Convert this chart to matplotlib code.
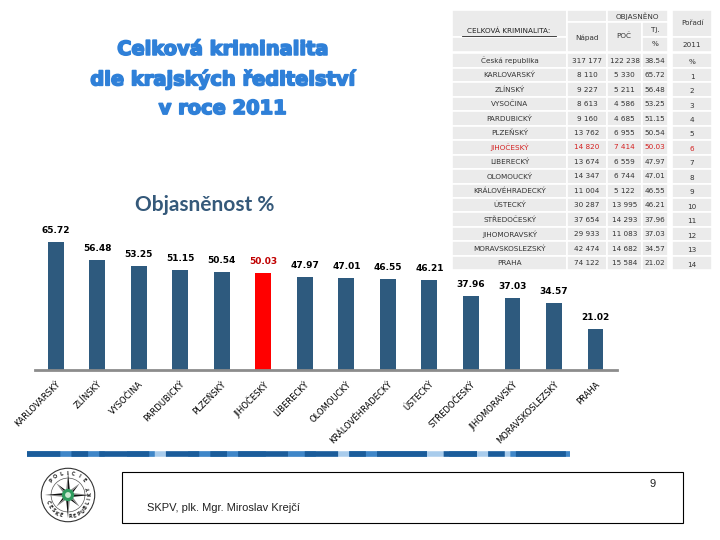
import matplotlib
matplotlib.use("Agg")
import matplotlib.pyplot as plt
import matplotlib.patches as mpatches
import matplotlib.patheffects as pe
from matplotlib.lines import Line2D
import numpy as np

# data
regions = ["KARLOVARSKÝ", "ZLÍNSKÝ", "VYSOČINA", "PARDUBICKÝ", "PLZEŇSKÝ",
           "JIHOČESKÝ", "LIBERECKÝ", "OLOMOUCKÝ", "KRÁLOVÉHRADECKÝ", "ÚSTECKÝ",
           "STŘEDOČESKÝ", "JIHOMORAVSKÝ", "MORAVSKOSLEZSKÝ", "PRAHA"]
objasnenost = [65.72, 56.48, 53.25, 51.15, 50.54, 50.03, 47.97, 47.01,
               46.55, 46.21, 37.96, 37.03, 34.57, 21.02]
napad = [317177, 8110, 9227, 8613, 9160, 13762, 14820, 13674, 14347,
         11004, 30287, 37654, 29933, 42474, 74122]
poc = [122238, 5330, 5211, 4586, 4685, 6955, 7414, 6559, 6744,
       5122, 13995, 14293, 11083, 14682, 15584]
table_names = ["Česká republika"] + regions
table_pct = [38.54] + objasnenost
poradi = ["%"] + [str(i) for i in range(1, 15)]
highlight = "JIHOČESKÝ"

W, H = 720, 540
fig = plt.figure(figsize=(7.2, 5.4), dpi=100)
fig.patch.set_facecolor("white")

def fx(x):
    return x / W

def fy(y):
    return 1 - y / H

# big title
fig.text(fx(223), fy(79), "Celková kriminalita\ndle krajských ředitelství\nv roce 2011",
         ha="center", va="center", fontsize=14, fontweight="bold",
         family="DejaVu Sans", color="#2F80D8", linespacing=1.65,
         path_effects=[pe.withStroke(linewidth=1.2, foreground="#2F80D8")])

# chart title
fig.text(fx(205), fy(205), "Objasněnost %", ha="center", va="center",
         fontsize=15, fontweight="bold", family="Lato", color="#35597A")

# bar chart
ax = fig.add_axes([fx(35), fy(370), (617 - 35) / W, 136.4 / H])
ax.patch.set_alpha(0)
x = np.arange(len(regions))
colors = ["#FF0000" if r == highlight else "#2E5A7E" for r in regions]
bars = ax.bar(x, objasnenost, width=0.38, color=colors, zorder=2)
labels = ax.bar_label(bars, fmt="%.2f", padding=5, fontsize=6.5,
                      fontweight="bold", color="black")
for r, t in zip(regions, labels):
    if r == highlight:
        t.set_color("#C00000")
ax.set_xlim(-0.5, 13.52)
ax.set_ylim(0, 70)
for s in ["top", "left", "right"]:
    ax.spines[s].set_visible(False)
ax.spines["bottom"].set_color("#8C8C8C")
ax.spines["bottom"].set_linewidth(2)
ax.set_yticks([])
ax.set_xticks(x)
ax.set_xticklabels(regions, rotation=45, ha="right", rotation_mode="anchor",
                   fontsize=6, color="black")
ax.tick_params(axis="x", length=0, pad=7)

# table on the right
cell_bg = "#EBEBEB"

def cell(x0, y0, x1, y1):
    fig.add_artist(mpatches.Rectangle((fx(x0), fy(y1)), (x1 - x0) / W, (y1 - y0) / H,
                                      transform=fig.transFigure, facecolor=cell_bg,
                                      edgecolor="white", linewidth=1.2))

def ttext(xc, yc, s, color="#333333", size=5.2, **kw):
    fig.text(fx(xc), fy(yc), s, ha="center", va="center", fontsize=size,
             color=color, family="DejaVu Sans", **kw)

cols = [(452, 567), (567, 607), (607, 642), (642, 668), (672, 712)]
# header
cell(452, 10, 567, 37); cell(452, 37, 567, 52)
cell(567, 10, 607, 22); cell(567, 22, 607, 52)
cell(607, 10, 668, 22)
cell(607, 22, 642, 52)
cell(642, 22, 668, 37); cell(642, 37, 668, 52)
cell(672, 10, 712, 37); cell(672, 37, 712, 52)
fig.text(fx(509), fy(31), "CELKOVÁ KRIMINALITA:", ha="center", va="center",
         fontsize=5.2, color="#222222", family="DejaVu Sans")
fig.add_artist(Line2D([fx(462), fx(556)], [fy(35.5), fy(35.5)],
                      transform=fig.transFigure, color="#222222", lw=0.6))
ttext(587, 38, "Nápad")
ttext(637, 16, "OBJASNĚNO")
ttext(624, 36, "POČ")
ttext(655, 30, "Tj.")
ttext(655, 44, "%")
ttext(692, 23, "Pořadí")
ttext(692, 45, "2011")

row_h = 14.45
top0 = 53.5
for i, name in enumerate(table_names):
    y0 = top0 + i * row_h
    y1 = y0 + row_h
    yc = (y0 + y1) / 2
    for (c0, c1) in cols:
        cell(c0, y0, c1, y1)
    col = "#D42020" if name == highlight else "#333333"
    ttext(509.5, yc, name, color=col)
    ttext(587, yc, f"{napad[i]:,}".replace(",", " "), color=col)
    ttext(624.5, yc, f"{poc[i]:,}".replace(",", " "), color=col)
    ttext(655, yc, f"{table_pct[i]:.2f}", color=col)
    ttext(692, yc + 1.5, poradi[i], color=col)

# decorative stripe
fig.add_artist(Line2D([fx(27), fx(570)], [fy(454), fy(454)], transform=fig.transFigure,
                      color="#A9CCEC", lw=4, solid_capstyle="butt"))
fig.add_artist(Line2D([fx(27), fx(570)], [fy(454), fy(454)], transform=fig.transFigure,
                      color="#3F86C8", lw=4, dashes=(14, 4, 5, 6),
                      dash_capstyle="butt"))
fig.add_artist(Line2D([fx(27), fx(570)], [fy(454), fy(454)], transform=fig.transFigure,
                      color="#1B5C9A", lw=4, dashes=(6, 2, 3, 2, 9, 3),
                      dash_capstyle="butt"))

# footer box
fig.add_artist(mpatches.Rectangle((fx(122), fy(523)), (683 - 122) / W, (523 - 472) / H,
                                  transform=fig.transFigure, fill=False,
                                  edgecolor="black", linewidth=0.8))
fig.text(fx(147), fy(508), "SKPV, plk. Mgr. Miroslav Krejčí", ha="left", va="center",
         fontsize=8, family="Liberation Sans", color="#222222")
fig.text(fx(653), fy(484), "9", ha="center", va="center", fontsize=8,
         family="Liberation Sans", color="#222222")

# police logo
lax = fig.add_axes([fx(68 - 30), fy(495 + 30), 60 / W, 60 / H])
lax.set_xlim(-1.1, 1.1)
lax.set_ylim(-1.1, 1.1)
lax.set_aspect("equal")
lax.axis("off")
lax.add_patch(mpatches.Circle((0, 0), 0.98, fill=False, lw=0.8, color="#333333"))
lax.add_patch(mpatches.Circle((0, 0), 0.62, fill=False, lw=0.5, color="#555555"))
for k in range(8):
    a = np.deg2rad(90 - 45 * k)
    r = 0.85 if k % 2 == 0 else 0.6
    for side, c in [(-1, "#111111"), (1, "#888888")]:
        b = a + side * np.deg2rad(22.5)
        lax.add_patch(mpatches.Polygon([(0, 0), (r * np.cos(a), r * np.sin(a)),
                                        (0.18 * np.cos(b), 0.18 * np.sin(b))],
                                       closed=True, color=c, lw=0))
lax.add_patch(mpatches.Circle((0, 0), 0.2, color="#2E9B5E"))
lax.add_patch(mpatches.Circle((0, 0), 0.08, color="#C8E8D0"))
top_txt = "POLICIE"
for j, ch in enumerate(top_txt):
    ang = 140 - j * 16
    a = np.deg2rad(ang)
    lax.text(0.8 * np.cos(a), 0.8 * np.sin(a), ch, rotation=ang - 90,
             ha="center", va="center", fontsize=3.6, fontweight="bold", color="#222222")
bot_txt = "ČESKÉ REPUBLIKY"
for j, ch in enumerate(bot_txt):
    ang = 200 + j * 12.5
    a = np.deg2rad(ang)
    lax.text(0.8 * np.cos(a), 0.8 * np.sin(a), ch, rotation=ang + 90,
             ha="center", va="center", fontsize=3.6, fontweight="bold", color="#222222")

fig.savefig("out.png", dpi=100)
